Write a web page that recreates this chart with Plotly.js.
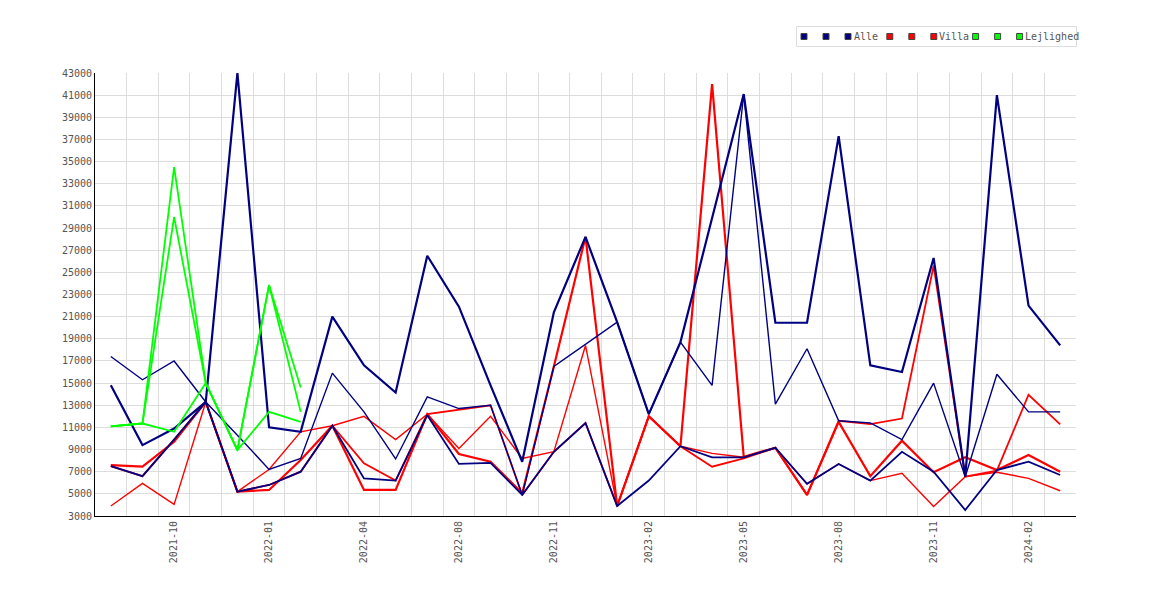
<!DOCTYPE html>
<html>
<head>
<meta charset="utf-8">
<script src="https://cdn.plot.ly/plotly-3.0.1.min.js"></script>
<style>
  html, body { margin: 0; padding: 0; background: #fff; }
  #chart { width: 1170px; height: 600px; }
</style>
</head>
<body>
<div id="chart"></div>
<script>
const months = [
  "2021-08", "2021-09", "2021-10", "2021-11", "2021-12",
  "2022-01", "2022-02", "2022-03", "2022-04", "2022-05", "2022-06",
  "2022-08", "2022-09", "2022-10", "2022-11", "2022-12",
  "2023-01", "2023-02", "2023-03", "2023-04", "2023-05", "2023-06",
  "2023-07", "2023-08", "2023-09", "2023-10", "2023-11", "2023-12",
  "2024-01", "2024-02", "2024-03",
];

const alle1 = [14800, 9400, 10900, 13300, 43000, 11000, 10600, 21000, 16600, 14150, 26500,
  21900, 14800, 7900, 21400, 28200, 20500, 12200, 18700, 29800, 41100,
  20450, 20450, 37300, 16600, 16000, 26300, 6550, 41000, 22000, 18400];
const alle2 = [17400, 15300, 17000, 13300, 10300, 7200, 8200, 15900, 12400, 8150, 13750,
  12700, 13000, 4900, 16500, 18500, 20500, 12200, 18700, 14800, 41100,
  13100, 18100, 11600, 11400, 9900, 15000, 6550, 15800, 12400, 12400];
const alle3 = [7500, 6600, 9900, 13300, 5200, 5800, 7000, 11150, 6400, 6200, 12100,
  7700, 7800, 4900, 8800, 11400, 3900, 6200, 9300, 8300, 8300,
  9160, 5900, 7700, 6200, 8800, 7000, 3540, 7150, 7900, 6700];

const villa1 = [7600, 7450, 9700, 13300, 5200, 5350, 8050, 11150, 5350, 5350, 12200,
  8600, 7900, 5050, 16500, 28200, 3900, 12000, 9300, 42000, 8350,
  9160, 4900, 11500, 6600, 9800, 6950, 8300, 7150, 8500, 7000];
const villa2 = [3900, 5950, 4050, 13300, 5200, 7200, 10600, 11150, 12000, 9900, 12200,
  9100, 12000, 8200, 8800, 18400, 3900, 12000, 9300, 8650, 8300,
  9160, 5900, 7700, 6200, 6850, 3850, 6550, 6950, 6400, 5280];
const villa3 = [7500, 6600, 9900, 13300, 5200, 5800, 7000, 11150, 7750, 6200, 12200,
  12600, 13000, 4900, 8800, 11400, 3900, 12000, 9300, 7450, 8200,
  9160, 4900, 11600, 11300, 11800, 25600, 6550, 7100, 13950, 11270];

const lejlighed1 = [11100, 11350, 34500, 15000, 8950, 23850, 14600];
const lejlighed2 = [11100, 11350, 30000, 15000, 8950, 23850, 12400];
const lejlighed3 = [11100, 11350, 10600, 15000, 8950, 12400, 11500];

const groupNames = ["Alle", "Villa", "Lejlighed"];

const COLORS = {
  alle: "#000080",
  villa: "#ff0000",
  lejlighed: "#00ff00",
  grid: "#dddddd",
  text: "#555555",
  axis: "#000000",
  legendBorder: "#dddddd",
  swatchBorder: "#444444",
};
const groupColors = [COLORS.alle, COLORS.villa, COLORS.lejlighed];

const FONT = "DejaVu Sans Mono, monospace";
const W = 1170;
const H = 600;
const M = { l: 95, r: 94, t: 73, b: 84 };

const pos = months.map((_, i) => i);
const tickPos = pos.filter((i) => i % 3 === 2);

const line = (values, color, width) => ({
  x: pos.slice(0, values.length),
  y: values,
  mode: "lines",
  line: { color, width },
  hoverinfo: "skip",
  showlegend: false,
});

const traces = [
  line(villa3, COLORS.villa, 1.8),
  line(villa2, COLORS.villa, 1.4),
  line(villa1, COLORS.villa, 2.2),
  line(alle3, COLORS.alle, 1.8),
  line(alle2, COLORS.alle, 1.4),
  line(alle1, COLORS.alle, 2.2),
  line(lejlighed3, COLORS.lejlighed, 1.8),
  line(lejlighed2, COLORS.lejlighed, 1.8),
  line(lejlighed1, COLORS.lejlighed, 1.8),
];

// JpGraph-like legend box: three swatches per group, only the last one named
const px2x = (px) => (px - M.l) / (W - M.l - M.r);
const px2y = (py) => (H - M.b - py) / (H - M.t - M.b);

const legendShapes = [{
  type: "rect",
  xref: "paper",
  yref: "paper",
  x0: px2x(796.5),
  x1: px2x(1076.5),
  y0: px2y(46.5),
  y1: px2y(26.5),
  line: { color: COLORS.legendBorder, width: 1 },
  fillcolor: "#ffffff",
  layer: "above",
}];
const legendAnnots = [];
const legendRow = 36.5;

groupColors.forEach((color, g) => {
  const start = 804 + g * 85.8;
  for (let k = 0; k < 3; k++) {
    legendShapes.push({
      type: "rect",
      xref: "paper",
      yref: "paper",
      xsizemode: "pixel",
      ysizemode: "pixel",
      xanchor: px2x(start + k * 22),
      yanchor: px2y(legendRow),
      x0: -3,
      x1: 3,
      y0: -3,
      y1: 3,
      line: { color: COLORS.swatchBorder, width: 1 },
      fillcolor: color,
      layer: "above",
    });
  }
  legendAnnots.push({
    xref: "paper",
    yref: "paper",
    x: px2x(start + 2 * 22 + 4.5),
    y: px2y(legendRow),
    xanchor: "left",
    yanchor: "middle",
    text: groupNames[g],
    showarrow: false,
    font: { family: FONT, size: 10, color: COLORS.text },
    borderpad: 0,
  });
});

const layout = {
  width: W,
  height: H,
  paper_bgcolor: "#ffffff",
  plot_bgcolor: "#ffffff",
  margin: M,
  font: { family: FONT, size: 10, color: COLORS.text },
  showlegend: false,
  xaxis: {
    range: [-0.5, 30.5],
    tickvals: tickPos,
    ticktext: tickPos.map((i) => months[i]),
    tickangle: -90,
    showgrid: false,
    zeroline: false,
    showline: true,
    linecolor: COLORS.axis,
    linewidth: 1,
    ticks: "",
    tickfont: { family: FONT, size: 10, color: COLORS.text },
    minor: { tick0: 0.5, dtick: 1, showgrid: true, gridcolor: COLORS.grid, gridwidth: 1, ticks: "" },
    fixedrange: true,
  },
  yaxis: {
    range: [3000, 43000],
    tick0: 3000,
    dtick: 2000,
    tickformat: "d",
    showgrid: true,
    gridcolor: COLORS.grid,
    gridwidth: 1,
    zeroline: false,
    showline: true,
    linecolor: COLORS.axis,
    linewidth: 1,
    ticks: "",
    tickfont: { family: FONT, size: 10, color: COLORS.text },
    fixedrange: true,
  },
  shapes: legendShapes,
  annotations: legendAnnots,
};

Plotly.newPlot("chart", traces, layout, { displayModeBar: false, staticPlot: true });
</script>
</body>
</html>
